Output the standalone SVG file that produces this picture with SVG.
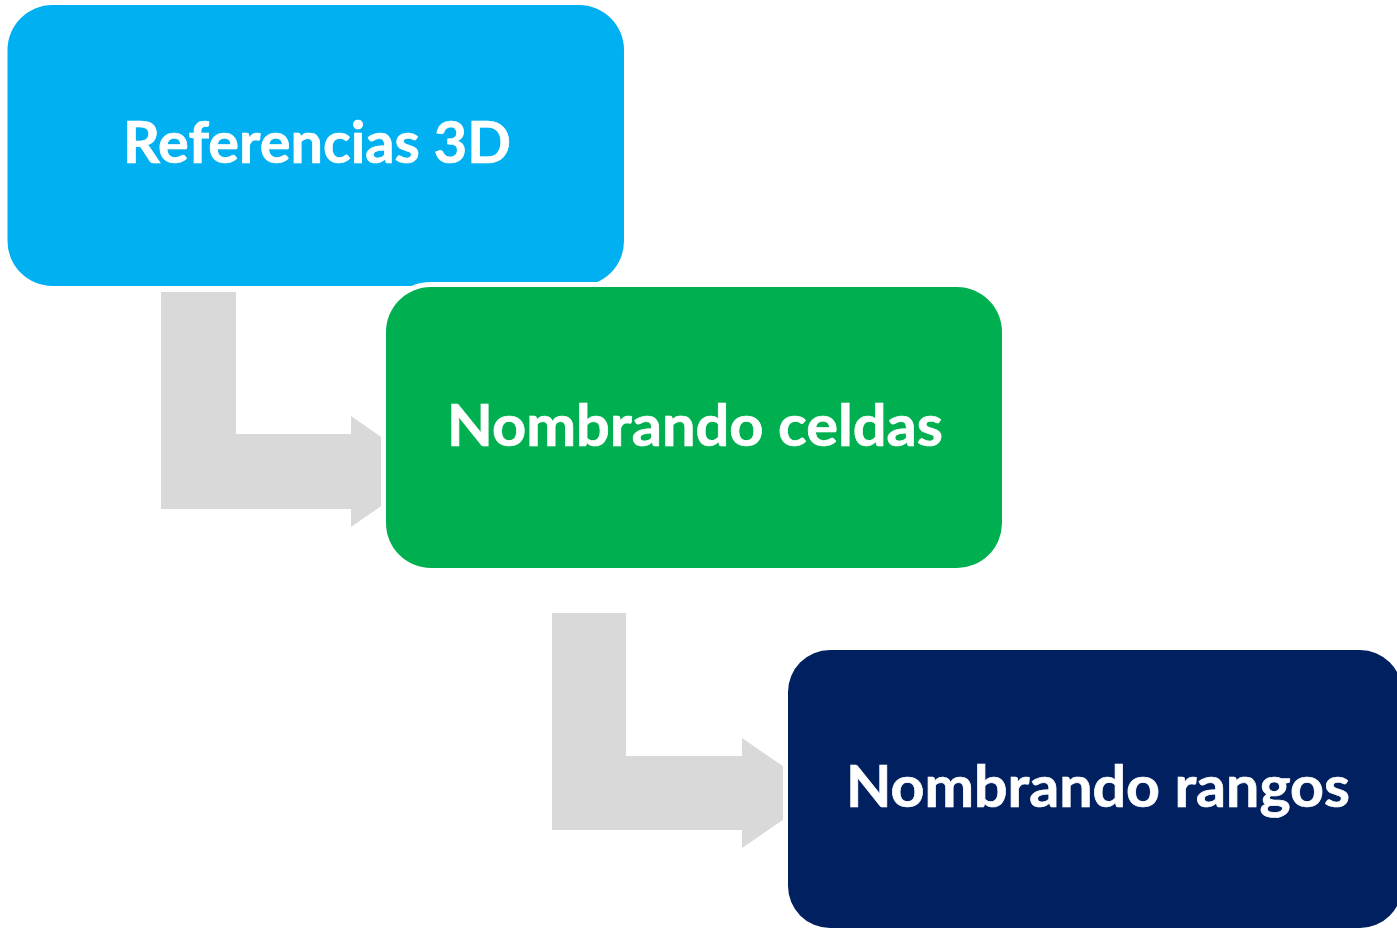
<svg xmlns="http://www.w3.org/2000/svg" width="1397" height="928" viewBox="0 0 1397 928">
<style>
.arrow{fill:#D9D9D9;}
.box{stroke:#FFFFFF;stroke-width:10;paint-order:stroke;}
.lbl{font-family:Lato,"Open Sans","Liberation Sans",sans-serif;font-weight:bold;font-size:57px;fill:#FFFFFF;stroke:#FFFFFF;stroke-width:0.7;}
</style>
<rect width="1397" height="928" fill="#FFFFFF"/>
<g id="connectors">
<polygon class="arrow" points="161,292 236,292 236,434 351,434 351,416 431,471.5 351,527 351,509 161,509"/>
<polygon class="arrow" points="552,613 626,613 626,756 742,756 742,738 822,793 742,848 742,830 552,830"/>
</g>
<g id="node1">
<rect x="7.5" y="5" width="616.5" height="281" rx="45" ry="45" fill="#00B0F0"/>
<text class="lbl" x="123" y="163" textLength="388" lengthAdjust="spacingAndGlyphs">Referencias 3D</text>
</g>
<g id="node2">
<rect class="box" x="386" y="287" width="616" height="281" rx="45" ry="45" fill="#00B050"/>
<text class="lbl" x="447" y="446" textLength="496" lengthAdjust="spacingAndGlyphs">Nombrando celdas</text>
</g>
<g id="node3">
<rect class="box" x="788" y="650" width="614" height="278" rx="42" ry="42" fill="#002060"/>
<text class="lbl" x="846" y="807" textLength="504" lengthAdjust="spacingAndGlyphs">Nombrando rangos</text>
</g>
</svg>
